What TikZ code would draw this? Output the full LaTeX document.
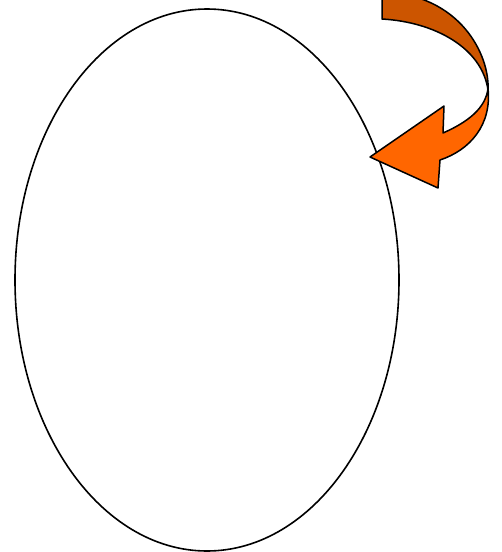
\documentclass[tikz,border=0pt]{standalone}
\usetikzlibrary{shapes.geometric}
\begin{document}
\begin{tikzpicture}[x=1pt,y=-1pt,
  outline/.style={draw=black,line width=1.5pt,line join=round},
  backface/.style={outline,fill=darkorange},
  frontface/.style={outline,fill=lightorange}]
\definecolor{darkorange}{HTML}{CC5500}
\definecolor{lightorange}{HTML}{FF6600}
\useasboundingbox (0,0) rectangle (502,552);
\begin{scope}
\clip (0,0) rectangle (502,552);
\node[draw,ellipse,line width=1.6pt,minimum width=384pt,minimum height=542pt,inner sep=0pt] (egg) at (207,280) {};
% back face of curved arrow
\path[backface] (382,-8) -- (382,19)
  .. controls (435,22) and (482,48) .. (488,90)
  .. controls (490,55) and (460,-6) .. (382,-8) -- cycle;
% front face with arrowhead
\path[frontface] (488,88)
  .. controls (492,125) and (470,150) .. (440,160)
  -- (438,188) -- (370,157) -- (444,106) -- (443,133)
  .. controls (468,122) and (486,108) .. (488,88) -- cycle;
\end{scope}
\end{tikzpicture}
\end{document}
